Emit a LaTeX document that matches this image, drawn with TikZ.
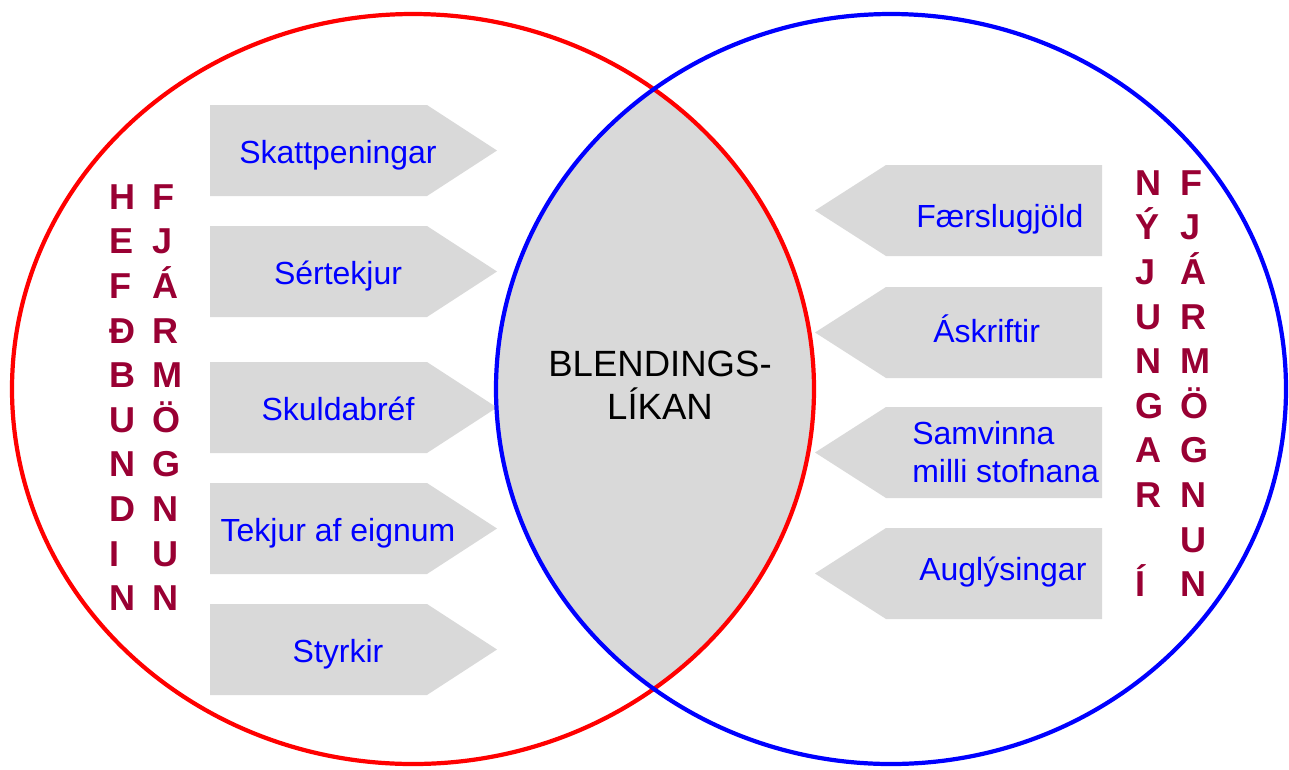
\documentclass[tikz,border=0pt]{standalone}
\usepackage{fontspec}
\setmainfont{Liberation Sans}
\definecolor{lensgray}{HTML}{D9D9D9}
\definecolor{letterred}{HTML}{990033}

\begin{document}
\begin{tikzpicture}[x=0.02cm, y=-0.02cm,
  arrowbox/.style={fill=lensgray},
  boxtext/.style={text=blue, font=\fontsize{18.2}{21.6}\selectfont, inner sep=0pt},
  letters/.style={text=letterred, font=\fontsize{20.5}{25.4}\bfseries\selectfont,
    align=left, inner sep=0pt, anchor=north west}]
\useasboundingbox (0,0) rectangle (1289,769);

% shared part of the two circles
\begin{scope}
  \clip (413,389) ellipse [x radius=401, y radius=375];
  \fill[lensgray] (891,389) ellipse [x radius=395, y radius=375];
\end{scope}

% arrows pointing in
\fill[arrowbox] (210,105) -- ++(217,0) -- ++(70,45.5) -- ++(-70,45.5) -- ++(-217,0) -- cycle;
\fill[arrowbox] (210,226) -- ++(217,0) -- ++(70,45.5) -- ++(-70,45.5) -- ++(-217,0) -- cycle;
\fill[arrowbox] (210,362) -- ++(217,0) -- ++(70,45.5) -- ++(-70,45.5) -- ++(-217,0) -- cycle;
\fill[arrowbox] (210,483) -- ++(217,0) -- ++(70,45.5) -- ++(-70,45.5) -- ++(-217,0) -- cycle;
\fill[arrowbox] (210,604) -- ++(217,0) -- ++(70,45.5) -- ++(-70,45.5) -- ++(-217,0) -- cycle;

\fill[arrowbox] (1102,165) -- ++(-216,0) -- ++(-71,45.5) -- ++(71,45.5) -- ++(216,0) -- cycle;
\fill[arrowbox] (1102,287) -- ++(-216,0) -- ++(-71,45.5) -- ++(71,45.5) -- ++(216,0) -- cycle;
\fill[arrowbox] (1102,407) -- ++(-216,0) -- ++(-71,45.5) -- ++(71,45.5) -- ++(216,0) -- cycle;
\fill[arrowbox] (1102,528) -- ++(-216,0) -- ++(-71,45.5) -- ++(71,45.5) -- ++(216,0) -- cycle;

\node[boxtext, anchor=base] (skatt) at (338,163) {Skattpeningar};
\node[boxtext, anchor=base] (sertekjur) at (338,284) {Sértekjur};
\node[boxtext, anchor=base] (skuldabref) at (338,420) {Skuldabréf};
\node[boxtext, anchor=base] (eignir) at (338,541) {Tekjur af eignum};
\node[boxtext, anchor=base] (styrkir) at (338,662) {Styrkir};

\node[boxtext, anchor=base west] (faersla) at (916,227) {Færslugjöld};
\node[boxtext, anchor=base west] (askrift) at (933,342) {Áskriftir};
\node[boxtext, anchor=west, align=left] (samvinna) at (912,452.5) {Samvinna\\milli stofnana};
\node[boxtext, anchor=base west] (augl) at (919,580) {Auglýsingar};

% middle
\node[font=\fontsize{20.8}{24.5}\selectfont, align=center, inner sep=0pt, anchor=north]
  (blend) at (660,351) {BLENDINGS-\\LÍKAN};

% side words
\node[letters] (hefd) at (109.5,184) {H\\E\\F\\Ð\\B\\U\\N\\D\\I\\N};
\node[letters] (fjarl) at (152.5,184) {F\\J\\Á\\R\\M\\Ö\\G\\N\\U\\N};
\node[letters] (nyj) at (1135.5,170) {N\\Ý\\J\\U\\N\\G\\A\\R\\\mbox{}\\Í};
\node[letters] (fjarr) at (1180.5,170) {F\\J\\Á\\R\\M\\Ö\\G\\N\\U\\N};

% the two circles
\draw[red, line width=2.4pt] (413,389) ellipse [x radius=401, y radius=375];
\draw[blue, line width=2.4pt] (891,389) ellipse [x radius=395, y radius=375];
\end{tikzpicture}
\end{document}
